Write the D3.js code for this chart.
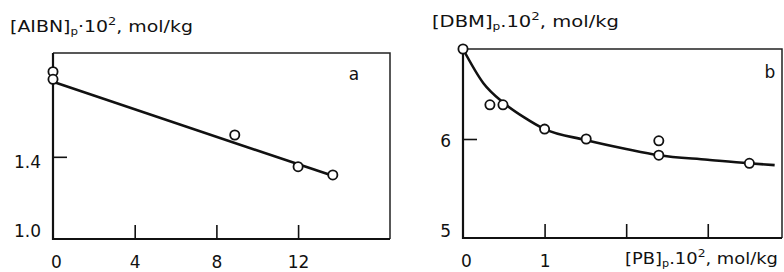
<!DOCTYPE html>
<html>
<head>
<meta charset="utf-8">
<script src="https://cdn.jsdelivr.net/npm/d3@7"></script>
<style>
  body { margin: 0; background: #fff; }
  text { font-family: "DejaVu Sans", "Liberation Sans", Arial, sans-serif; fill: #111; }
</style>
</head>
<body>
<script>
// panel a : [AIBN]p vs ? (x 0..16)
var aPointsX = [0, 0, 8.9, 12.0, 13.7];
var aPointsY = [1.892, 1.848, 1.526, 1.343, 1.295];
var aLineX = [0, 13.7];
var aLineY = [1.834, 1.29];
var aXTicks = [0, 4, 8, 12];
var aYTicks = [1.0, 1.4];

// panel b : [DBM]p vs [PB]p
var bPointsX = [0, 0.33, 0.49, 1.0, 1.51, 2.40, 2.40, 3.51];
var bPointsY = [7.0, 6.38, 6.38, 6.11, 6.0, 5.98, 5.82, 5.73];
var bCurveX = [0, 0.25, 0.5, 0.75, 1.0, 1.5, 2.0, 2.4, 3.0, 3.5, 3.82];
var bCurveY = [7.0, 6.62, 6.40, 6.24, 6.11, 5.99, 5.89, 5.82, 5.77, 5.73, 5.71];
var bXTicks = [0, 1, 2, 3];
var bYTicks = [5, 6];

var svg = d3.select("body").append("svg")
    .attr("width", 784)
    .attr("height", 272);

function panel(opt) {
    var x = d3.scaleLinear().domain(opt.xDomain).range([opt.left, opt.right]);
    var y = d3.scaleLinear().domain(opt.yDomain).range([opt.bottom, opt.top]);
    var g = svg.append("g");

    // x axis, ticks pointing inside
    var xAxis = d3.axisBottom(x)
        .tickValues(opt.xTicks)
        .tickSizeInner(-14)
        .tickSizeOuter(0)
        .tickPadding(17)
        .tickFormat(opt.xFormat);
    var gx = g.append("g")
        .attr("transform", "translate(0," + opt.bottom + ")")
        .call(xAxis);
    gx.select(".domain").remove();
    gx.selectAll(".tick line").attr("stroke", "#111").attr("stroke-width", 1.6)
        .filter(function (d) { return d === opt.xTicks[0]; }).remove();
    gx.selectAll("text").style("font-size", "17px").attr("dy", "0.68em")
        .attr("dx", function (d) { return d === 0 ? 3 : 0; })
        .attr("fill", "#111");

    var yAxis = d3.axisLeft(y)
        .tickValues(opt.yTicks)
        .tickSizeInner(-14)
        .tickSizeOuter(0)
        .tickPadding(opt.yPad)
        .tickFormat(opt.yFormat);
    var gy = g.append("g")
        .attr("transform", "translate(" + opt.left + ",0)")
        .call(yAxis);
    gy.select(".domain").remove();
    gy.selectAll(".tick line").attr("stroke", "#111").attr("stroke-width", 1.6)
        .filter(function (d) { return d === opt.yTicks[0]; }).remove();
    gy.selectAll("text").style("font-size", "17px").attr("dy", opt.yDy).attr("fill", "#111");

    // frame
    g.append("path")
        .attr("d", "M" + opt.right + "," + opt.bottom + "V" + opt.top + "H" + opt.left)
        .attr("fill", "none").attr("stroke", "#222").attr("stroke-width", 1.5);
    g.append("path")
        .attr("d", "M" + opt.left + "," + opt.top + "V" + opt.bottom + "H" + opt.right)
        .attr("fill", "none").attr("stroke", "#111").attr("stroke-width", 2.2);

    // fitted line / curve
    var lineData = opt.lineX.map(function (v, i) { return [v, opt.lineY[i]]; });
    g.append("path")
        .datum(lineData)
        .attr("d", d3.line()
            .x(function (d) { return x(d[0]); })
            .y(function (d) { return y(d[1]); })
            .curve(d3.curveMonotoneX))
        .attr("fill", "none")
        .attr("stroke", "#111")
        .attr("stroke-width", 2.6);

    var pts = opt.px.map(function (v, i) { return [v, opt.py[i]]; });
    g.selectAll("circle")
        .data(pts)
        .enter()
        .append("circle")
        .attr("cx", function (d) { return x(d[0]); })
        .attr("cy", function (d) { return y(d[1]); })
        .attr("r", 4.6)
        .attr("fill", "#fff")
        .attr("stroke", "#111")
        .attr("stroke-width", 1.8);

    g.append("text")
        .attr("x", opt.letterX)
        .attr("y", opt.letterY)
        .attr("text-anchor", "middle")
        .style("font-size", "17px")
        .text(opt.letter);

    return g;
}

panel({
    left: 53, right: 390, top: 53, bottom: 239,
    xDomain: [0, 16.5], yDomain: [0.925, 2.0],
    xTicks: aXTicks, yTicks: aYTicks,
    xFormat: d3.format("d"), yFormat: d3.format(".1f"),
    yPad: 12, yDy: "0.6em",
    px: aPointsX, py: aPointsY, lineX: aLineX, lineY: aLineY,
    letter: "a", letterX: 354, letterY: 80
});

panel({
    left: 463, right: 782, top: 49, bottom: 238,
    xDomain: [0, 3.91], yDomain: [4.9, 7.0],
    xTicks: bXTicks, yTicks: bYTicks,
    xFormat: function (d) { return d < 2 ? d : ""; }, yFormat: d3.format("d"),
    yPad: 12, yDy: "0.45em",
    px: bPointsX, py: bPointsY, lineX: bCurveX, lineY: bCurveY,
    letter: "b", letterX: 770, letterY: 78
});

// axis titles with sub/superscripts, stretched to the width seen in the scan
function title(x, y, name, sep, width) {
    var g = svg.append("g");
    var t = g.append("text")
        .style("font-size", "16px");
    t.append("tspan").text("[" + name + "]");
    t.append("tspan").attr("dy", 3).style("font-size", "10px").text("p");
    t.append("tspan").attr("dy", -3).text(sep + "10");
    t.append("tspan").attr("dy", -7).style("font-size", "11px").text("2");
    t.append("tspan").attr("dy", 7).text(", mol/kg");
    var w = t.node().getBBox().width;
    g.attr("transform", "translate(" + x + "," + y + ") scale(" + (width / w) + ",1)");
}

title(10, 32, "AIBN", "\u00b7", 183);
title(432, 27, "DBM", ".", 187);
title(625, 264, "PB", ".", 153);
</script>
</body>
</html>
